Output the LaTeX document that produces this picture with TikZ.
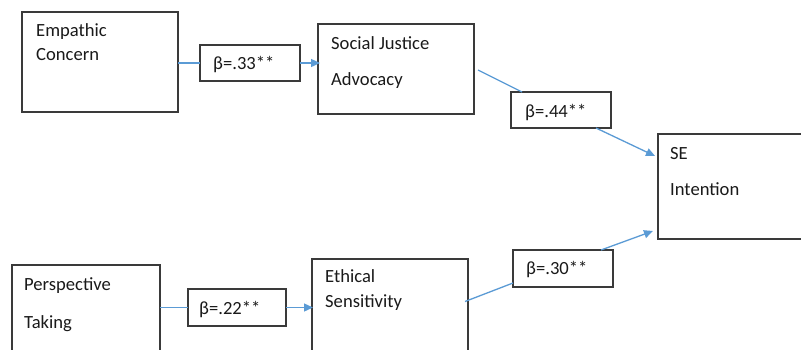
\documentclass[tikz,border=0pt]{standalone}
\usepackage{fontspec}
\setmainfont{Carlito}
\usetikzlibrary{arrows.meta,calc}
\definecolor{boxline}{HTML}{3A3A3A}
\definecolor{conncol}{HTML}{5B9BD5}
\definecolor{txtcol}{HTML}{1A1A1A}
\tikzset{
  box/.style={draw=boxline, line width=1.3pt, inner sep=0pt, outer sep=0pt, fill=white},
  txt/.style={anchor=base west, inner sep=0pt, text=txtcol, font=\fontsize{18.6}{22}\selectfont},
  conn/.style={draw=conncol, line width=1.3pt},
  arr/.style={conn, -{Triangle[length=9pt,width=8pt]}}
}
\begin{document}
\begin{tikzpicture}[x=1pt,y=-1pt]
\clip (0,0) rectangle (801,349);
\fill[white] (0,0) rectangle (801,349);
% boxes
\node[box, minimum width=156pt, minimum height=100pt] (ec) at (100,62) {};
\node[box, minimum width=100pt, minimum height=36pt] (b33) at (250,63) {};
\node[box, minimum width=156pt, minimum height=90pt] (sj) at (396,69) {};
\node[box, minimum width=100pt, minimum height=36pt] (b44) at (561,110) {};
\node[box, minimum width=160pt, minimum height=105pt] (se) at (738,186.5) {};
\node[box, minimum width=100pt, minimum height=37pt] (b30) at (563,268.5) {};
\node[box, minimum width=156pt, minimum height=101pt] (es) at (390,309.5) {};
\node[box, minimum width=148pt, minimum height=95pt] (pt) at (86,312.5) {};
\node[box, minimum width=98pt, minimum height=37pt] (b22) at (237,307.5) {};
% texts
\node[txt] (t1) at (36,36) {Empathic};
\node[txt] (t2) at (36,60) {Concern};
\node[txt] (t3) at (331,49) {Social Justice};
\node[txt] (t4) at (331,85) {Advocacy};
\node[txt] (t5) at (670,159) {SE};
\node[txt] (t6) at (670,195) {Intention};
\node[txt] (t7) at (24,290) {Perspective};
\node[txt] (t8) at (24,328) {Taking};
\node[txt] (t9) at (325,282) {Ethical};
\node[txt] (t10) at (325,307) {Sensitivity};
\node[txt] (l33) at (213,69) {β=.33**};
\node[txt] (l44) at (525,117) {β=.44**};
\node[txt] (l30) at (526,274) {β=.30**};
\node[txt] (l22) at (199,314) {β=.22**};
% connectors
\draw[conn] (ec.east |- b33.west) -- (b33.west);
\draw[arr] (b33.east) -- ($(sj.west |- b33.east)+(2,0)$);
\draw[conn] ($(sj.east)+(4,1)$) -- ($(b44.north west)+(11,0)$);
\draw[arr] ($(b44.south east)+(-15,0)$) -- ($(se.north west)+(-3,22)$);
\draw[conn] ($(es.east)+(-3,-8)$) -- ($(b30.south west)+(0,-4)$);
\draw[arr] ($(b30.north east)+(-12,0)$) -- ($(se.south west)+(-5,-8)$);
\draw[conn] (pt.east |- b22.west) -- (b22.west);
\draw[arr] (b22.east) -- ($(es.west |- b22.east)+(1,0)$);
\end{tikzpicture}
\end{document}
